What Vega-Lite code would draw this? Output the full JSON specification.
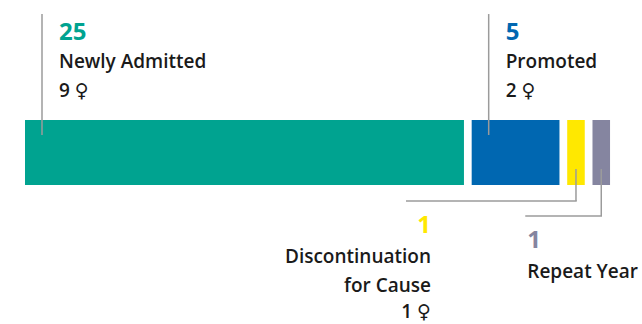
{
  "$schema": "https://vega.github.io/schema/vega-lite/v6.json",
  "width": 642,
  "height": 324,
  "autosize": {"type": "fit", "contains": "padding"},
  "padding": 0,
  "background": "white",
  "config": {"view": {"stroke": null}, "text": {"font": "Open Sans"}},
  "data": {
    "values": [
      {"category": "Newly Admitted", "count": 25, "female": 9, "order": 1},
      {"category": "Promoted", "count": 5, "female": 2, "order": 2},
      {"category": "Discontinuation\nfor Cause", "count": 1, "female": 1, "order": 3},
      {"category": "Repeat Year", "count": 1, "female": null, "order": 4}
    ]
  },
  "transform": [
    {"stack": "count", "groupby": [], "sort": [{"field": "order", "order": "ascending"}], "as": ["s", "e"]},
    {"calculate": "datum.s + (datum.order - 1) * 0.44", "as": "x0"},
    {"calculate": "datum.e + (datum.order - 1) * 0.44", "as": "x1"},
    {"calculate": "(datum.x0 + datum.x1) / 2", "as": "xm"},
    {"calculate": "datum.female == null ? '' : datum.female + ' ♀'", "as": "fem"}
  ],
  "layer": [
    {
      "mark": {"type": "bar"},
      "encoding": {
        "x": {"field": "x0", "type": "quantitative", "scale": {"domain": [-1.424, 35.14], "nice": false, "zero": false}, "axis": null},
        "x2": {"field": "x1"},
        "y": {"datum": 0, "type": "quantitative", "scale": {"domain": [-2.138, 2.846], "nice": false, "zero": false}, "axis": null},
        "y2": {"datum": 1},
        "color": {"field": "category", "type": "nominal", "scale": {"domain": ["Newly Admitted", "Promoted", "Discontinuation\nfor Cause", "Repeat Year"], "range": ["#00A390", "#0067B1", "#FFE800", "#8585A0"]}, "legend": null}
      }
    },
    {
      "transform": [{"filter": "datum.order <= 2"}],
      "mark": {"type": "rule", "color": "#9b9b9b", "strokeWidth": 1.5, "xOffset": 17},
      "encoding": {
        "x": {"field": "x0", "type": "quantitative", "scale": {"domain": [-1.424, 35.14], "nice": false, "zero": false}, "axis": null},
        "y": {"datum": 2.63, "type": "quantitative", "scale": {"domain": [-2.138, 2.846], "nice": false, "zero": false}, "axis": null},
        "y2": {"datum": 0.769}
      }
    },
    {
      "transform": [{"filter": "datum.order <= 2"}],
      "mark": {"type": "text", "align": "left", "baseline": "alphabetic", "fontSize": 24, "fontWeight": "bold", "xOffset": 34},
      "encoding": {
        "x": {"field": "x0", "type": "quantitative", "scale": {"domain": [-1.424, 35.14], "nice": false, "zero": false}, "axis": null},
        "y": {"datum": 2.231, "type": "quantitative", "scale": {"domain": [-2.138, 2.846], "nice": false, "zero": false}, "axis": null},
        "text": {"field": "count", "type": "quantitative"},
        "color": {"field": "category", "type": "nominal", "legend": null}
      }
    },
    {
      "transform": [{"filter": "datum.order <= 2"}],
      "mark": {"type": "text", "align": "left", "baseline": "alphabetic", "fontSize": 19, "fontWeight": 600, "xOffset": 34, "color": "#1a1a1a"},
      "encoding": {
        "x": {"field": "x0", "type": "quantitative", "scale": {"domain": [-1.424, 35.14], "nice": false, "zero": false}, "axis": null},
        "y": {"datum": 1.8, "type": "quantitative", "scale": {"domain": [-2.138, 2.846], "nice": false, "zero": false}, "axis": null},
        "text": {"field": "category", "type": "nominal"}
      }
    },
    {
      "transform": [{"filter": "datum.order <= 2"}],
      "mark": {"type": "text", "align": "left", "baseline": "alphabetic", "fontSize": 19, "fontWeight": 600, "xOffset": 34, "color": "#1a1a1a", "font": "Open Sans, DejaVu Sans"},
      "encoding": {
        "x": {"field": "x0", "type": "quantitative", "scale": {"domain": [-1.424, 35.14], "nice": false, "zero": false}, "axis": null},
        "y": {"datum": 1.354, "type": "quantitative", "scale": {"domain": [-2.138, 2.846], "nice": false, "zero": false}, "axis": null},
        "text": {"field": "fem", "type": "nominal"}
      }
    },
    {
      "transform": [{"filter": "datum.order == 3"}],
      "mark": {"type": "rule", "color": "#9b9b9b", "strokeWidth": 1.5},
      "encoding": {
        "x": {"field": "xm", "type": "quantitative", "scale": {"domain": [-1.424, 35.14], "nice": false, "zero": false}, "axis": null},
        "y": {"datum": 0.246, "type": "quantitative", "scale": {"domain": [-2.138, 2.846], "nice": false, "zero": false}, "axis": null},
        "y2": {"datum": -0.246}
      }
    },
    {
      "transform": [{"filter": "datum.order == 3"}],
      "mark": {"type": "rule", "color": "#9b9b9b", "strokeWidth": 1.5, "xOffset": -170, "x2Offset": 0.75},
      "encoding": {
        "x": {"field": "xm", "type": "quantitative", "scale": {"domain": [-1.424, 35.14], "nice": false, "zero": false}, "axis": null},
        "x2": {"field": "xm"},
        "y": {"datum": -0.246, "type": "quantitative", "scale": {"domain": [-2.138, 2.846], "nice": false, "zero": false}, "axis": null}
      }
    },
    {
      "transform": [{"filter": "datum.order == 3"}],
      "mark": {"type": "text", "align": "right", "baseline": "alphabetic", "fontSize": 24, "fontWeight": "bold", "xOffset": -145},
      "encoding": {
        "x": {"field": "xm", "type": "quantitative", "scale": {"domain": [-1.424, 35.14], "nice": false, "zero": false}, "axis": null},
        "y": {"datum": -0.743, "type": "quantitative", "scale": {"domain": [-2.138, 2.846], "nice": false, "zero": false}, "axis": null},
        "text": {"field": "count", "type": "quantitative"},
        "color": {"field": "category", "type": "nominal", "legend": null}
      }
    },
    {
      "transform": [{"filter": "datum.order == 3"}],
      "mark": {"type": "text", "align": "right", "baseline": "alphabetic", "fontSize": 19, "fontWeight": 600, "xOffset": -145, "color": "#1a1a1a", "lineBreak": "\n", "lineHeight": 28.4},
      "encoding": {
        "x": {"field": "xm", "type": "quantitative", "scale": {"domain": [-1.424, 35.14], "nice": false, "zero": false}, "axis": null},
        "y": {"datum": -1.205, "type": "quantitative", "scale": {"domain": [-2.138, 2.846], "nice": false, "zero": false}, "axis": null},
        "text": {"field": "category", "type": "nominal"}
      }
    },
    {
      "transform": [{"filter": "datum.order == 3"}],
      "mark": {"type": "text", "align": "right", "baseline": "alphabetic", "fontSize": 19, "fontWeight": 600, "xOffset": -145, "color": "#1a1a1a", "font": "Open Sans, DejaVu Sans"},
      "encoding": {
        "x": {"field": "xm", "type": "quantitative", "scale": {"domain": [-1.424, 35.14], "nice": false, "zero": false}, "axis": null},
        "y": {"datum": -2.046, "type": "quantitative", "scale": {"domain": [-2.138, 2.846], "nice": false, "zero": false}, "axis": null},
        "text": {"field": "fem", "type": "nominal"}
      }
    },
    {
      "transform": [{"filter": "datum.order == 4"}],
      "mark": {"type": "rule", "color": "#9b9b9b", "strokeWidth": 1.5},
      "encoding": {
        "x": {"field": "xm", "type": "quantitative", "scale": {"domain": [-1.424, 35.14], "nice": false, "zero": false}, "axis": null},
        "y": {"datum": 0.246, "type": "quantitative", "scale": {"domain": [-2.138, 2.846], "nice": false, "zero": false}, "axis": null},
        "y2": {"datum": -0.477}
      }
    },
    {
      "transform": [{"filter": "datum.order == 4"}],
      "mark": {"type": "rule", "color": "#9b9b9b", "strokeWidth": 1.5, "xOffset": -76, "x2Offset": 0.75},
      "encoding": {
        "x": {"field": "xm", "type": "quantitative", "scale": {"domain": [-1.424, 35.14], "nice": false, "zero": false}, "axis": null},
        "x2": {"field": "xm"},
        "y": {"datum": -0.477, "type": "quantitative", "scale": {"domain": [-2.138, 2.846], "nice": false, "zero": false}, "axis": null}
      }
    },
    {
      "transform": [{"filter": "datum.order == 4"}],
      "mark": {"type": "text", "align": "left", "baseline": "alphabetic", "fontSize": 24, "fontWeight": "bold", "xOffset": -74},
      "encoding": {
        "x": {"field": "xm", "type": "quantitative", "scale": {"domain": [-1.424, 35.14], "nice": false, "zero": false}, "axis": null},
        "y": {"datum": -0.965, "type": "quantitative", "scale": {"domain": [-2.138, 2.846], "nice": false, "zero": false}, "axis": null},
        "text": {"field": "count", "type": "quantitative"},
        "color": {"field": "category", "type": "nominal", "legend": null}
      }
    },
    {
      "transform": [{"filter": "datum.order == 4"}],
      "mark": {"type": "text", "align": "left", "baseline": "alphabetic", "fontSize": 19, "fontWeight": 600, "xOffset": -74, "color": "#1a1a1a"},
      "encoding": {
        "x": {"field": "xm", "type": "quantitative", "scale": {"domain": [-1.424, 35.14], "nice": false, "zero": false}, "axis": null},
        "y": {"datum": -1.426, "type": "quantitative", "scale": {"domain": [-2.138, 2.846], "nice": false, "zero": false}, "axis": null},
        "text": {"field": "category", "type": "nominal"}
      }
    }
  ]
}
